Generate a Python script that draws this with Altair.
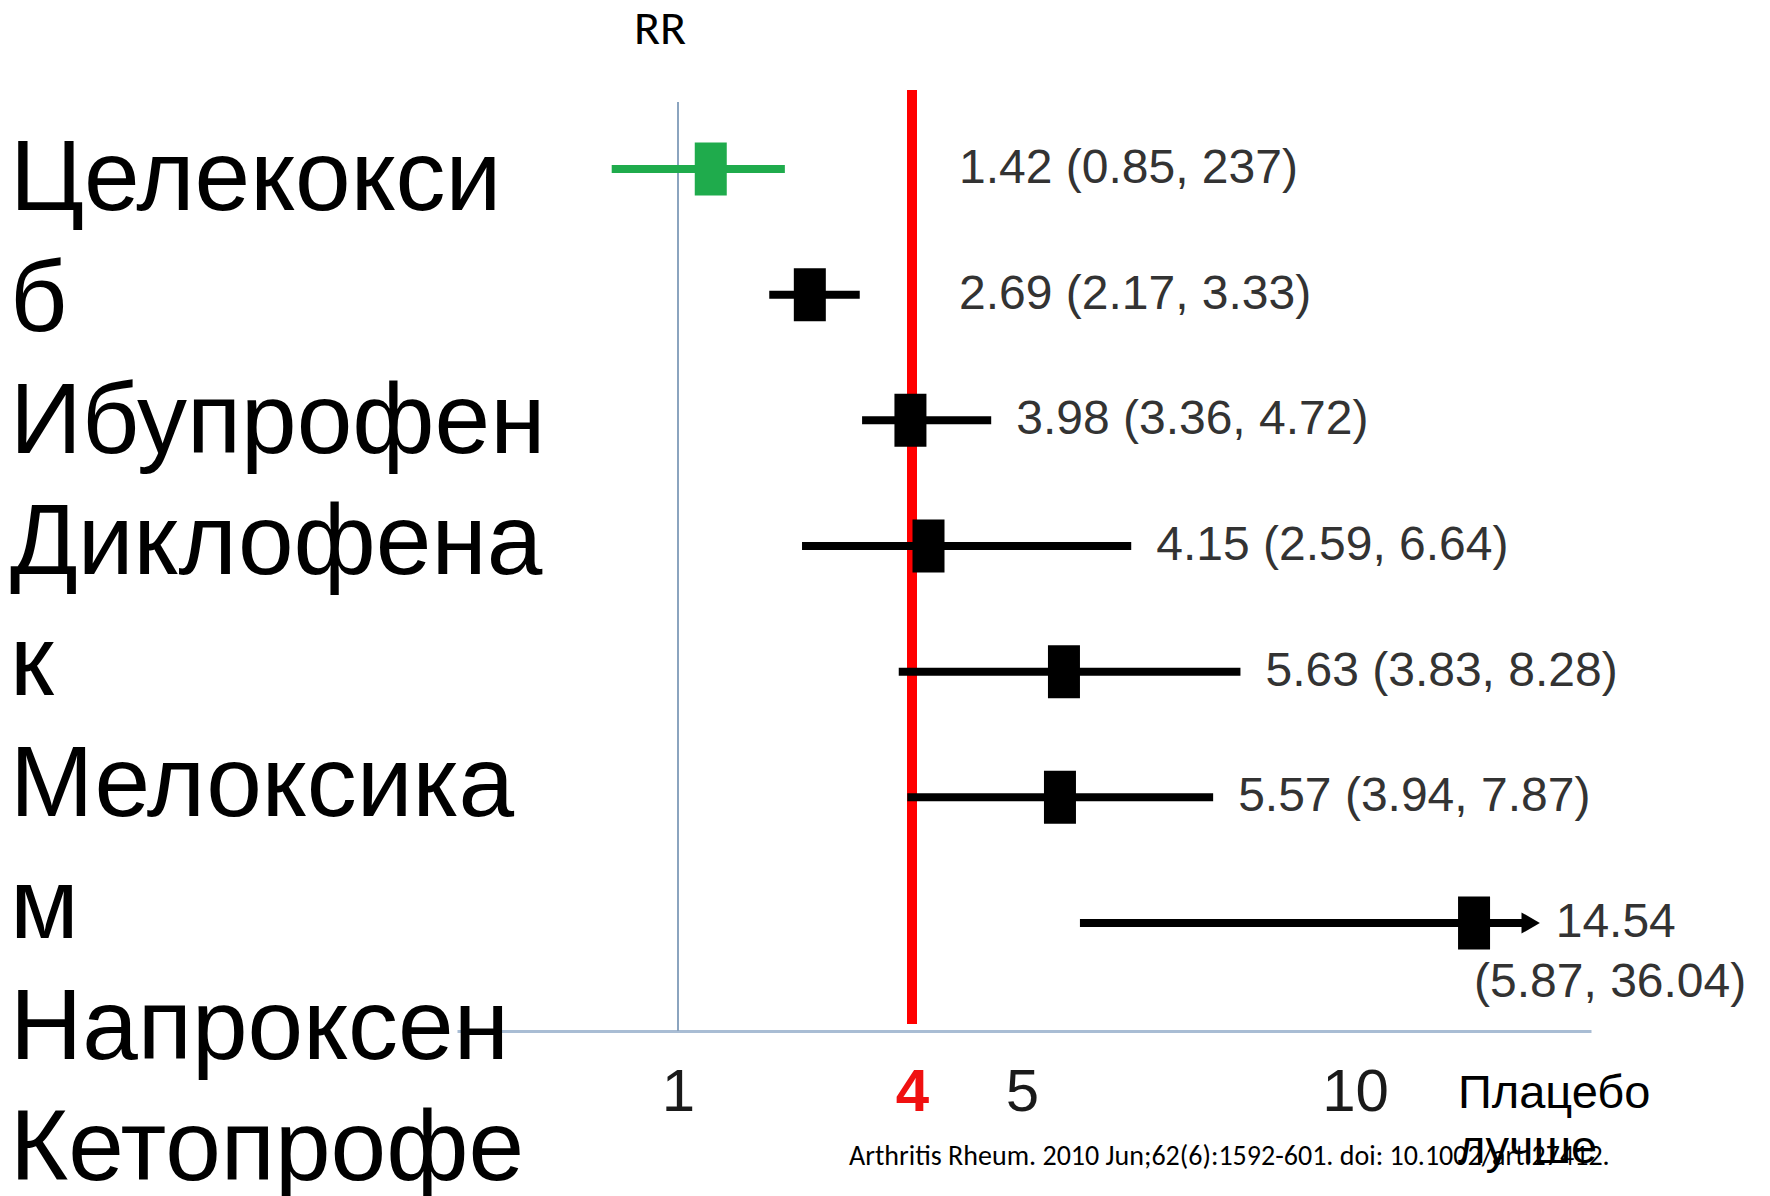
import altair as alt
import pandas as pd

# ---- data ----
drugs = ["Целекоксиб", "Ибупрофен", "Диклофенак", "Мелоксикам", "Напроксен", "Кетопрофен", "Кеторолак"]
rr = [1.42, 2.69, 3.98, 4.15, 5.63, 5.57, 14.54]
ci_low = [0.85, 2.17, 3.36, 2.59, 3.83, 3.94, 5.87]
ci_high = [2.37, 3.33, 4.72, 6.64, 8.28, 7.87, 36.04]
value_text = ["1.42 (0.85, 237)", "2.69 (2.17, 3.33)", "3.98 (3.36, 4.72)",
              "4.15 (2.59, 6.64)", "5.63 (3.83, 8.28)", "5.57 (3.94, 7.87)", "14.54"]
ci_text = ["", "", "", "", "", "", "(5.87, 36.04)"]
left_lines = ["Целекокси", "б", "Ибупрофен", "Диклофена", "к", "Мелоксика", "м", "Напроксен", "Кетопрофе"]
tick_values = [1, 4, 5, 10]
red_line_value = [4]
null_line_value = [1]
title_text = ["RR"]
side_note = ["Плацебо\nлучше"]
citation = ["Arthritis  Rheum. 2010 Jun;62(6):1592-601. doi: 10.1002/art.27412."]

# ---- display settings ----
W, H = 1134, 941
CAP = 16.7            # where the open-ended CI is cut with an arrow
GREEN = "#1fab4c"
TXT = "#333333"
ARIAL = "Liberation Sans"
CAL = "Carlito, Lato, sans-serif"

df = pd.DataFrame({"drug": drugs, "rr": rr, "lo": ci_low, "hi": ci_high,
                   "vtext": value_text, "ctext": ci_text})

x_scale = alt.Scale(domain=[0.5, 1, 4, 5, 10, 19], range=[0, 221, 455, 565, 898, 1134],
                    nice=False, zero=False)
y_scale = alt.Scale(type="point", domain=drugs, range=[79, 833], padding=0)

x_axis = alt.Axis(values=tick_values, ticks=False, tickSize=0, grid=False,
                  domainColor="#a9bdd4", domainWidth=3,
                  labelFontSize=60, labelFont=ARIAL,
                  labelColor=alt.ExprRef(expr="datum.value == 4 ? '#f01010' : '#1a1a1a'"),
                  labelFontWeight=alt.ExprRef(expr="datum.value == 4 ? 'bold' : 'normal'"),
                  labelPadding=32, labelFlush=False, labelOverlap=False, format="d")

Y = alt.Y("drug:N", scale=y_scale, axis=None)
colour = alt.condition(alt.datum.drug == drugs[0], alt.value(GREEN), alt.value("black"))

base = alt.Chart(df).transform_calculate(
    hi_c=f"min(datum.hi, {CAP})",
    cap_x=f"{CAP}",
    lx="max(datum.hi, 4.2)",
)

ci = base.mark_rule(strokeWidth=8).encode(
    x=alt.X("lo:Q", scale=x_scale, axis=x_axis, title=None),
    x2="hi_c:Q",
    y=Y,
    color=colour,
)

box = base.mark_tick(thickness=32, size=53, opacity=1).encode(
    x=alt.X("rr:Q", title=None), y=Y, color=colour
)

arrow = base.transform_filter(f"datum.hi > {CAP}").mark_point(
    shape="triangle-right", filled=True, size=450, opacity=1, color="black"
).encode(x=alt.X("cap_x:Q", title=None), y=Y)

labels = base.transform_filter(f"datum.hi <= {CAP}").mark_text(
    align="left", baseline="middle", dx=25, fontSize=48, font=ARIAL, color=TXT
).encode(x=alt.X("lx:Q", title=None), y=Y, text="vtext:N")

labels_cap1 = base.transform_filter(f"datum.hi > {CAP}").mark_text(
    align="left", baseline="middle", dx=25, fontSize=48, font=ARIAL, color=TXT
).encode(x=alt.X("cap_x:Q", title=None), y=Y, text="vtext:N")

labels_cap2 = base.transform_filter(f"datum.hi > {CAP}").mark_text(
    align="left", baseline="middle", dx=0, dy=60, fontSize=48, font=ARIAL, color=TXT
).encode(x=alt.X("rr:Q", title=None), y=Y, text="ctext:N")

red_line = alt.Chart(pd.DataFrame({"v": red_line_value})).mark_rule(
    color="#ff0000", strokeWidth=10
).encode(x=alt.X("v:Q", title=None), y=alt.value(0), y2=alt.value(H - 7))

null_line = alt.Chart(pd.DataFrame({"v": null_line_value})).mark_rule(
    color="#8ba4bf", strokeWidth=2
).encode(x=alt.X("v:Q", title=None), y=alt.value(12), y2=alt.value(H))

left = alt.Chart(pd.DataFrame({"i": list(range(len(left_lines))), "t": left_lines})).mark_text(
    align="left", baseline="alphabetic", fontSize=100, font=ARIAL, color="black"
).encode(
    x=alt.value(-447),
    y=alt.Y("i:O", scale=alt.Scale(type="point", range=[120, 1090], padding=0), axis=None),
    text="t:N",
)

rr_title = alt.Chart(pd.DataFrame({"t": title_text})).mark_text(
    align="center", baseline="alphabetic", fontSize=48, font=CAL, color="black"
).encode(x=alt.value(203), y=alt.value(-46), text="t:N")

note = alt.Chart(pd.DataFrame({"t": side_note})).mark_text(
    align="left", baseline="alphabetic", fontSize=47, font=ARIAL, color="black",
    lineBreak="\n", lineHeight=55
).encode(x=alt.value(1001), y=alt.value(1018), text="t:N")

cite = alt.Chart(pd.DataFrame({"t": citation})).mark_text(
    align="left", baseline="middle", fontSize=28, font=CAL, color="black"
).encode(x=alt.value(392), y=alt.value(1067), text="t:N")

chart = alt.layer(
    null_line, red_line, ci, box, arrow, labels, labels_cap1, labels_cap2,
    left, rr_title, note, cite
).resolve_scale(y="independent").properties(
    width=W, height=H,
    autosize=alt.AutoSizeParams(type="none"),
    padding={"left": 449, "top": 82, "right": 171, "bottom": 165},
).configure_view(stroke=None)

chart.save("out.html", embed_options={"renderer": "svg", "actions": False})
